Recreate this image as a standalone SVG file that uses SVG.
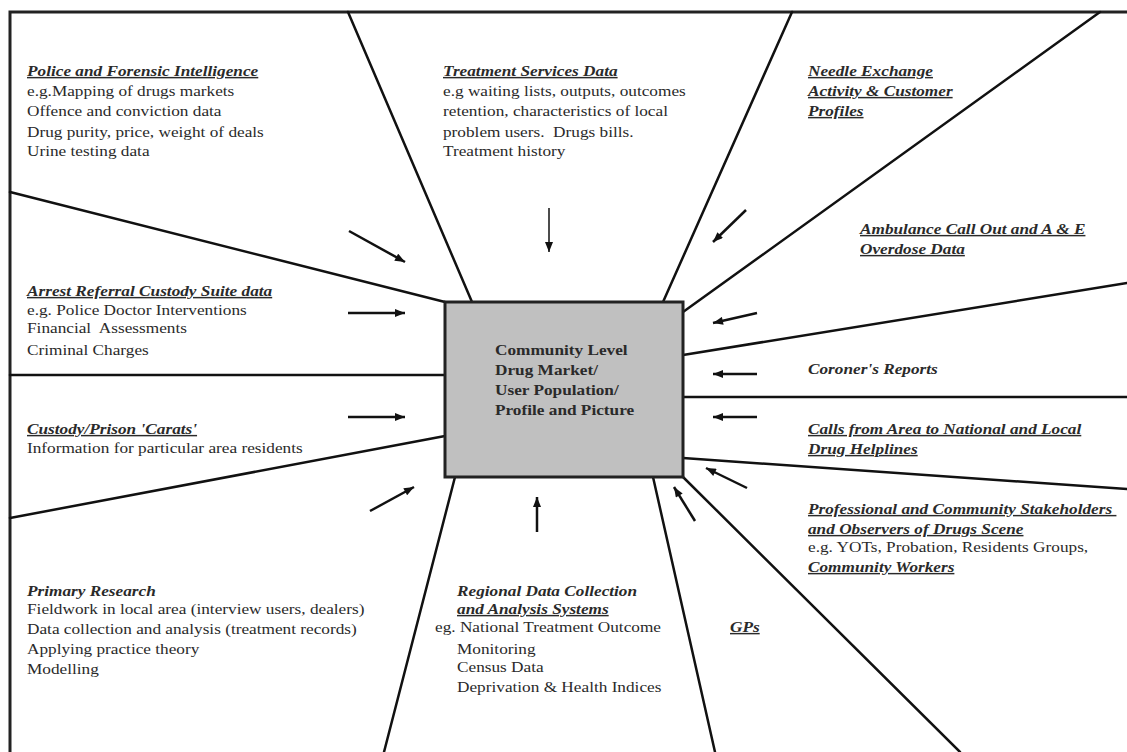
<svg xmlns="http://www.w3.org/2000/svg" width="1127" height="752" viewBox="0 0 1127 752">
<defs>
<marker id="ah" viewBox="0 0 10 8" refX="10" refY="4" markerWidth="11" markerHeight="8" markerUnits="userSpaceOnUse" orient="auto">
<path d="M0,0 L10,4 L0,8 Z" fill="#111"/>
</marker>
</defs>
<style>
.ln{stroke:#111;stroke-width:2.5;fill:none;stroke-linecap:round}
.ar{stroke:#111;stroke-width:2.5;fill:none;marker-end:url(#ah)}
.ar1{stroke:#111;stroke-width:1.5;fill:none;marker-end:url(#ah)}
text{font-family:"Liberation Serif","Times New Roman",serif;font-size:14.5px;fill:#2a2a2a}
.h{font-weight:bold;font-style:italic;text-decoration:underline}
.hn{font-weight:bold;font-style:italic}
.c{font-weight:bold}
</style>
<rect width="1127" height="752" fill="#fff"/>
<g id="frame">
<path d="M10,752 L10,12 L1127,12" stroke="#222" stroke-width="3" fill="none"/>
</g>
<g id="connectors">
<line class="ln" x1="472" y1="302" x2="348" y2="12"/>
<line class="ln" x1="663" y1="302" x2="792" y2="12"/>
<line class="ln" x1="683" y1="312" x2="1100" y2="12"/>
<line class="ln" x1="683" y1="355" x2="1127" y2="283"/>
<line class="ln" x1="683" y1="397" x2="1127" y2="397"/>
<line class="ln" x1="683" y1="458" x2="1127" y2="489"/>
<line class="ln" x1="683" y1="477" x2="960" y2="752"/>
<line class="ln" x1="653" y1="477" x2="715" y2="752"/>
<line class="ln" x1="455" y1="477" x2="384" y2="752"/>
<line class="ln" x1="445" y1="436" x2="10" y2="518"/>
<line class="ln" x1="10" y1="375" x2="445" y2="375"/>
<line class="ln" x1="10" y1="192" x2="445" y2="302"/>
<line class="ar" x1="349" y1="231" x2="405" y2="262"/>
<line class="ar" x1="348" y1="313" x2="405" y2="313"/>
<line class="ar" x1="348" y1="417" x2="405" y2="417"/>
<line class="ar" x1="370" y1="511" x2="414" y2="487"/>
<line class="ar1" x1="549" y1="208" x2="549" y2="252"/>
<line class="ar" x1="537" y1="532" x2="537" y2="497"/>
<line class="ar" x1="695" y1="521" x2="674" y2="487"/>
<line class="ar" x1="747" y1="488" x2="706" y2="468"/>
<line class="ar" x1="757" y1="374" x2="713" y2="374"/>
<line class="ar" x1="757" y1="417" x2="713" y2="417"/>
<line class="ar" x1="757" y1="313" x2="713" y2="323"/>
<line class="ar" x1="746" y1="210" x2="713" y2="242"/>
</g>
<g id="center">
<rect x="445" y="302" width="238" height="175" fill="#c0c0c0" stroke="#222" stroke-width="3"/>
<g transform="translate(495 0) scale(1.19 1)">
<text class="c" x="0" y="355">Community Level</text>
<text class="c" x="0" y="375">Drug Market/</text>
<text class="c" x="0" y="395">User Population/</text>
<text class="c" x="0" y="415">Profile and Picture</text>
</g>
</g>
<g id="police" transform="translate(27 0) scale(1.19 1)">
<text class="h" x="0" y="76">Police and Forensic Intelligence</text>
<text x="0" y="96">e.g.Mapping of drugs markets</text>
<text x="0" y="116">Offence and conviction data</text>
<text x="0" y="137">Drug purity, price, weight of deals</text>
<text x="0" y="156">Urine testing data</text>
</g>
<g id="treatment" transform="translate(443 0) scale(1.19 1)">
<text class="h" x="0" y="76">Treatment Services Data</text>
<text x="0" y="96">e.g waiting lists, outputs, outcomes</text>
<text x="0" y="116">retention, characteristics of local</text>
<text x="0" y="137" xml:space="preserve">problem users.  Drugs bills.</text>
<text x="0" y="156">Treatment history</text>
</g>
<g id="needle" transform="translate(808 0) scale(1.19 1)">
<text class="h" x="0" y="76">Needle Exchange</text>
<text class="h" x="0" y="96">Activity &amp; Customer</text>
<text class="h" x="0" y="116">Profiles</text>
</g>
<g id="ambulance" transform="translate(860 0) scale(1.19 1)">
<text class="h" x="0" y="234">Ambulance Call Out and A &amp; E</text>
<text class="h" x="0" y="254">Overdose Data</text>
</g>
<g id="arrest" transform="translate(27 0) scale(1.19 1)">
<text class="h" x="0" y="296">Arrest Referral Custody Suite data</text>
<text x="0" y="315">e.g. Police Doctor Interventions</text>
<text x="0" y="333" xml:space="preserve">Financial  Assessments</text>
<text x="0" y="355">Criminal Charges</text>
</g>
<g id="custody" transform="translate(27 0) scale(1.19 1)">
<text class="h" x="0" y="434">Custody/Prison 'Carats'</text>
<text x="0" y="453">Information for particular area residents</text>
</g>
<g id="coroner" transform="translate(808 0) scale(1.19 1)">
<text class="hn" x="0" y="374">Coroner's Reports</text>
</g>
<g id="calls" transform="translate(808 0) scale(1.19 1)">
<text class="h" x="0" y="434">Calls from Area to National and Local</text>
<text class="h" x="0" y="454">Drug Helplines</text>
</g>
<g id="professional" transform="translate(808 0) scale(1.19 1)">
<text class="h" x="0" y="514" xml:space="preserve">Professional and Community Stakeholders </text>
<text class="h" x="0" y="534">and Observers of Drugs Scene</text>
<text x="0" y="552">e.g. YOTs, Probation, Residents Groups,</text>
<text class="h" x="0" y="572">Community Workers</text>
</g>
<g id="primary" transform="translate(27 0) scale(1.19 1)">
<text class="hn" x="0" y="596">Primary Research</text>
<text x="0" y="614">Fieldwork in local area (interview users, dealers)</text>
<text x="0" y="634">Data collection and analysis (treatment records)</text>
<text x="0" y="654">Applying practice theory</text>
<text x="0" y="674">Modelling</text>
</g>
<g id="regional" transform="translate(435 0) scale(1.19 1)">
<text class="hn" x="18.5" y="596">Regional Data Collection</text>
<text class="h" x="18.5" y="614">and Analysis Systems</text>
<text x="0" y="632">eg. National Treatment Outcome</text>
<text x="18.5" y="654">Monitoring</text>
<text x="18.5" y="672">Census Data</text>
<text x="18.5" y="692">Deprivation &amp; Health Indices</text>
</g>
<g id="gps" transform="translate(730 0) scale(1.19 1)">
<text class="h" x="0" y="632">GPs</text>
</g>
</svg>
